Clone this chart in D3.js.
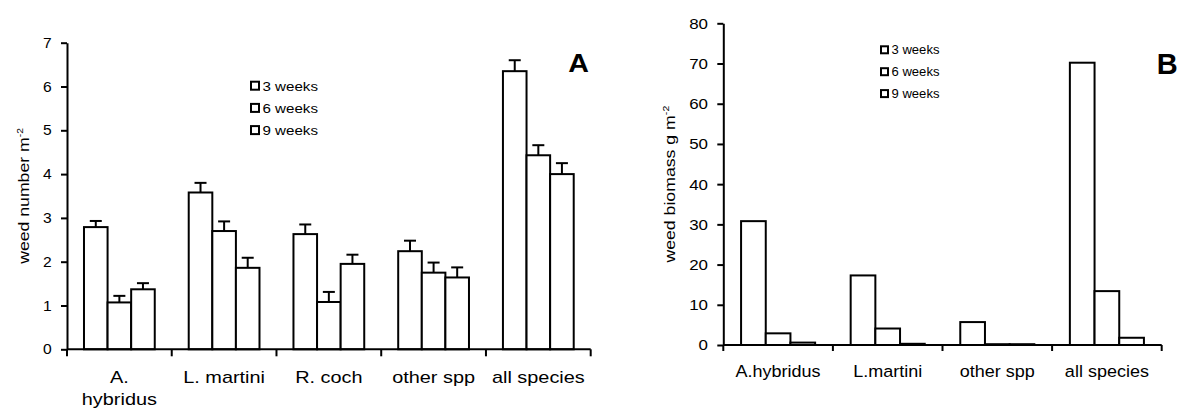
<!DOCTYPE html>
<html>
<head>
<meta charset="utf-8">
<script src="https://cdn.jsdelivr.net/npm/d3@7"></script>
<style>
	body { margin: 0; background: #fff; }
	svg text { font-family: "Liberation Sans", Arial, sans-serif; fill: #000; }
</style>
</head>
<body>
<div id="vis-div"></div>
<script>
'use strict'

let seriesNames = ["3 weeks", "6 weeks", "9 weeks"]

// panel A : weed number m-2 (bar = mean, err = upper error bar)
let categoriesA = ["A. hybridus", "L. martini", "R. coch", "other spp", "all species"]
let tickLabelsA = ["A.\nhybridus", "L. martini", "R. coch", "other spp", "all species"]
let number3wk = [2.79, 3.58, 2.63, 2.24, 6.35]
let number6wk = [1.07, 2.70, 1.08, 1.75, 4.43]
let number9wk = [1.37, 1.86, 1.95, 1.64, 4.00]
let err3wk = [0.14, 0.22, 0.22, 0.24, 0.25]
let err6wk = [0.15, 0.22, 0.23, 0.23, 0.23]
let err9wk = [0.14, 0.23, 0.21, 0.23, 0.25]
let yTicksA = [0, 1, 2, 3, 4, 5, 6, 7]

// panel B : weed biomass g m-2
let categoriesB = ["A.hybridus", "L.martini", "other spp", "all species"]
let tickLabelsB = ["A.hybridus", "L.martini", "other spp", "all species"]
let biomass3wk = [30.8, 17.3, 5.7, 70.2]
let biomass6wk = [2.9, 4.1, 0.2, 13.4]
let biomass9wk = [0.6, 0.3, 0.2, 1.8]
let yTicksB = [0, 10, 20, 30, 40, 50, 60, 70, 80]


function buildRows(cats, vals, errs){
	let rows = []
	cats.forEach(function(c, i){
		seriesNames.forEach(function(s, j){
			rows.push({cat: c, series: s, value: vals[j][i], err: errs ? errs[j][i] : null})
		})
	})
	return rows
}

function renderPanel(svg, cfg){
	let g = svg.append("g")

	let x0 = d3.scaleBand().domain(cfg.cats).range([cfg.left, cfg.right]).padding(0)
	let x1 = d3.scaleBand().domain(seriesNames).range([0, x0.bandwidth()]).paddingInner(0).paddingOuter(0.72)
	let y = d3.scaleLinear().domain([0, d3.max(cfg.yTicks)]).range([cfg.bottom, cfg.top])

	let rows = buildRows(cfg.cats, cfg.vals, cfg.errs)

	// bars
	g.selectAll(".bar").data(rows).enter().append("rect")
		.attr("class", "bar")
		.attr("x", function(d){ return x0(d.cat) + x1(d.series) })
		.attr("y", function(d){ return y(d.value) })
		.attr("width", x1.bandwidth())
		.attr("height", function(d){ return cfg.bottom - y(d.value) })
		.attr("fill", "#fff")
		.attr("stroke", "#000")
		.attr("stroke-width", 2)

	// error bars (upper only)
	if (cfg.errs){
		let eg = g.selectAll(".err").data(rows).enter().append("g").attr("class", "err")
		eg.append("line")
			.attr("x1", function(d){ return x0(d.cat) + x1(d.series) + x1.bandwidth() / 2 })
			.attr("x2", function(d){ return x0(d.cat) + x1(d.series) + x1.bandwidth() / 2 })
			.attr("y1", function(d){ return y(d.value) })
			.attr("y2", function(d){ return y(d.value + d.err) })
			.attr("stroke", "#000").attr("stroke-width", 2)
		eg.append("line")
			.attr("x1", function(d){ return x0(d.cat) + x1(d.series) + x1.bandwidth() / 2 - 6 })
			.attr("x2", function(d){ return x0(d.cat) + x1(d.series) + x1.bandwidth() / 2 + 6 })
			.attr("y1", function(d){ return y(d.value + d.err) })
			.attr("y2", function(d){ return y(d.value + d.err) })
			.attr("stroke", "#000").attr("stroke-width", 2)
	}

	// y axis
	let yAxis = g.append("g")
		.attr("transform", "translate(" + cfg.left + ",0)")
		.call(d3.axisLeft(y).tickValues(cfg.yTicks).tickFormat(d3.format("d")).tickSize(6).tickSizeOuter(0))
	yAxis.select(".domain").attr("stroke-width", 2)
	yAxis.selectAll(".tick line").attr("stroke-width", 2)
	yAxis.selectAll(".tick text")
		.attr("x", 0)
		.attr("transform", "translate(" + (-cfg.tickGap) + ",0) scale(" + cfg.tickScale + ",1)")
		.style("font-size", cfg.tickFont + "px")
		.style("font-family", "'Liberation Sans', Arial, sans-serif")
		.attr("fill", "#000")

	// x axis line + boundary ticks
	let xg = g.append("g")
	xg.append("line")
		.attr("x1", cfg.left).attr("x2", cfg.right)
		.attr("y1", cfg.bottom).attr("y2", cfg.bottom)
		.attr("stroke", "#000").attr("stroke-width", 2)
	let bounds = cfg.cats.map(function(c){ return x0(c) }).concat([x0.range()[1]])
	xg.selectAll(".xtick").data(bounds).enter().append("line")
		.attr("class", "xtick")
		.attr("x1", function(d){ return d }).attr("x2", function(d){ return d })
		.attr("y1", cfg.bottom).attr("y2", cfg.bottom + cfg.xTickLen)
		.attr("stroke", "#000").attr("stroke-width", 2)

	let labs = xg.selectAll(".xlab").data(cfg.cats).enter().append("text")
		.attr("class", "xlab")
		.attr("text-anchor", "middle")
		.attr("transform", function(d){
			return "translate(" + (x0(d) + x0.bandwidth() / 2) + "," + (cfg.bottom + cfg.labelOffset) + ") scale(" + cfg.labelScale + ",1)"
		})
		.style("font-size", cfg.labelFont + "px")
	labs.each(function(d, i){
		let lines = cfg.labels[i].split("\n")
		let t = d3.select(this)
		lines.forEach(function(l, k){
			t.append("tspan").attr("x", 0).attr("y", k * cfg.labelLineH).text(l)
		})
	})

	// y title
	let yt = g.append("text")
		.attr("text-anchor", "middle")
		.attr("transform", "translate(" + cfg.yTitleX + "," + ((cfg.top + cfg.bottom) / 2) + ") rotate(-90) scale(" + cfg.yTitleScale + ",1)")
		.style("font-size", cfg.yTitleFont + "px")
	yt.append("tspan").text(cfg.yTitle)
	yt.append("tspan").attr("dy", -6).style("font-size", "9px").text("-2")

	// legend
	let lg = g.append("g")
	let items = lg.selectAll(".leg").data(seriesNames).enter().append("g")
		.attr("class", "leg")
		.attr("transform", function(d, i){ return "translate(" + cfg.legX + "," + (cfg.legY + i * cfg.legRow) + ")" })
	items.append("rect")
		.attr("x", 1).attr("y", -cfg.legBox - 1)
		.attr("width", cfg.legBox).attr("height", cfg.legBox)
		.attr("fill", "#fff").attr("stroke", "#000").attr("stroke-width", 2)
	items.append("text")
		.attr("transform", "translate(" + (cfg.legBox + 4.5) + ",0) scale(" + cfg.legScale + ",1)")
		.style("font-size", cfg.legFont + "px")
		.attr("fill", "#111")
		.text(function(d){ return d })

	// panel letter
	g.append("text")
		.attr("text-anchor", "end")
		.attr("transform", "translate(" + cfg.letterX + "," + cfg.letterY + ") scale(" + cfg.letterScale + ",1)")
		.style("font-size", cfg.letterFont + "px")
		.style("font-weight", "bold")
		.text(cfg.letter)
}

function wrapper(){
	let svg = d3.select("#vis-div").append("svg")
		.attr("width", 1183).attr("height", 409)

	renderPanel(svg, {
		cats: categoriesA, labels: tickLabelsA,
		vals: [number3wk, number6wk, number9wk], errs: [err3wk, err6wk, err9wk],
		yTicks: yTicksA,
		left: 67, right: 590.7, top: 42.7, bottom: 349.3,
		tickGap: 15.3, tickFont: 14.2, tickScale: 1.1,
		xTickLen: 7, labelOffset: 33.4, labelLineH: 22.3, labelFont: 17, labelScale: 1.17,
		yTitle: "weed number m", yTitleX: 28.5, yTitleFont: 15.5, yTitleScale: 1.14,
		legX: 250, legY: 90.7, legRow: 22.2, legBox: 8, legFont: 13.5, legScale: 1.12,
		letter: "A", letterX: 589, letterY: 72, letterFont: 26.5, letterScale: 1.08
	})

	renderPanel(svg, {
		cats: categoriesB, labels: tickLabelsB,
		vals: [biomass3wk, biomass6wk, biomass9wk], errs: null,
		yTicks: yTicksB,
		left: 723.3, right: 1161.7, top: 23.3, bottom: 345,
		tickGap: 15.3, tickFont: 15.4, tickScale: 1.1,
		xTickLen: 6, labelOffset: 31.7, labelLineH: 22, labelFont: 17, labelScale: 1.06,
		yTitle: "weed biomass g m", yTitleX: 675, yTitleFont: 15, yTitleScale: 1.18,
		legX: 880, legY: 54.3, legRow: 21.9, legBox: 7, legFont: 12, legScale: 1.09,
		letter: "B", letterX: 1177.7, letterY: 74, letterFont: 29, letterScale: 1.0
	})
}

wrapper();
</script>
</body>
</html>
